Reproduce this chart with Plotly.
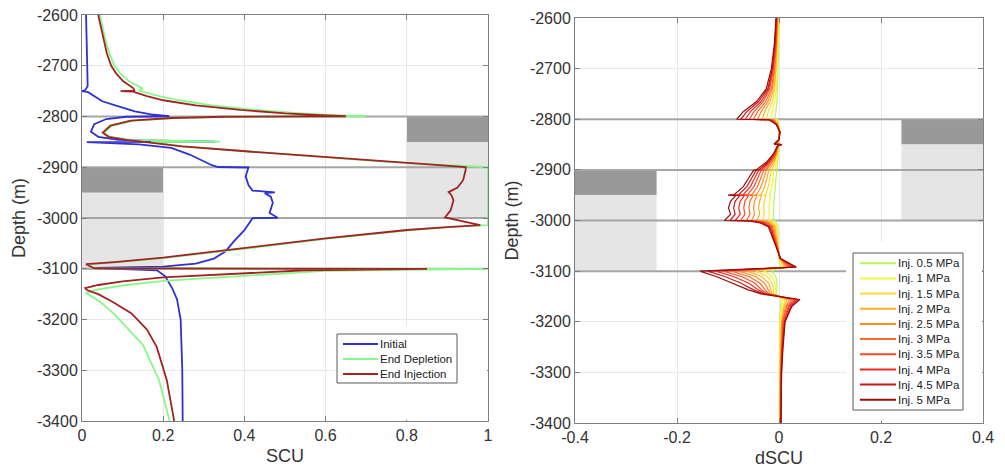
import plotly.graph_objects as go

# ---------------- Left panel data (SCU profiles) ----------------
init_depth = [-2600, -2700, -2740, -2748, -2750, -2752, -2760, -2770, -2780, -2790, -2796, -2799.5,
              -2800.5, -2805, -2815, -2830, -2840, -2846, -2849.5, -2850.5, -2855, -2862, -2875, -2888,
              -2896, -2899.5, -2900.5, -2918, -2935, -2946, -2949.5, -2951, -2958, -2970, -2990, -2999.5,
              -3000.5, -3024, -3045, -3066, -3080, -3090, -3096, -3098.5, -3100.5, -3103, -3115, -3138,
              -3160, -3200, -3300, -3400]
init_scu = [0.010, 0.012, 0.014, 0.008, 0.000, 0.015, 0.030, 0.050, 0.090, 0.130, 0.170, 0.215,
            0.110, 0.060, 0.030, 0.022, 0.040, 0.090, 0.328, 0.012, 0.140, 0.220, 0.265, 0.300,
            0.320, 0.335, 0.410, 0.403, 0.410, 0.420, 0.475, 0.450, 0.465, 0.470, 0.462, 0.482,
            0.420, 0.400, 0.375, 0.353, 0.325, 0.280, 0.200, 0.033, 0.130, 0.185, 0.205, 0.222,
            0.234, 0.243, 0.247, 0.248]

depl_depth = [-2600, -2650, -2675, -2700, -2715, -2730, -2745, -2749, -2751, -2760, -2768, -2778, -2787,
              -2794, -2798, -2799.5, -2800.5, -2803, -2808, -2818, -2832, -2840, -2846, -2849.5, -2850.5,
              -2859, -2869, -2879, -2889, -2896, -2899.5, -3014, -3018, -3023.6, -3040, -3059.7, -3078,
              -3087, -3092, -3099, -3099.6, -3100.4, -3104, -3113.6, -3124, -3133, -3142, -3148, -3155,
              -3165, -3190, -3220, -3250, -3320, -3400]
depl_scu = [0.044, 0.058, 0.067, 0.080, 0.094, 0.115, 0.150, 0.140, 0.150, 0.190, 0.240, 0.320, 0.427,
            0.540, 0.640, 0.700, 0.360, 0.230, 0.130, 0.075, 0.053, 0.070, 0.120, 0.340, 0.170,
            0.250, 0.415, 0.580, 0.745, 0.900, 1.000, 1.000, 0.900, 0.810, 0.610, 0.410, 0.210,
            0.090, 0.012, 0.030, 1.000, 1.000, 0.600, 0.400, 0.200, 0.100, 0.030, 0.010, 0.025,
            0.045, 0.080, 0.115, 0.150, 0.190, 0.216]

inj_depth = [-2600, -2650, -2675, -2700, -2715, -2730, -2744, -2749, -2750, -2751, -2760, -2768, -2778,
             -2787, -2794, -2798, -2799.5, -2800.5, -2803, -2808, -2818, -2832, -2840, -2846, -2851,
             -2859, -2869, -2879, -2889, -2896, -2899.5, -2905, -2925, -2940, -2949, -2955, -2965,
             -2985, -2999, -3005, -3011, -3014, -3018, -3023.6, -3040, -3059.7, -3078, -3087, -3091,
             -3099, -3099.6, -3100.4, -3103, -3109, -3117, -3125, -3132, -3138, -3142, -3150, -3165,
             -3188, -3220, -3254, -3320, -3400]
inj_scu = [0.040, 0.053, 0.061, 0.072, 0.084, 0.101, 0.126, 0.130, 0.095, 0.126, 0.160, 0.200, 0.280,
           0.390, 0.500, 0.600, 0.650, 0.350, 0.220, 0.120, 0.070, 0.051, 0.065, 0.110, 0.160,
           0.246, 0.410, 0.575, 0.740, 0.880, 0.945, 0.945, 0.939, 0.925, 0.903, 0.910, 0.915,
           0.908, 0.894, 0.930, 0.965, 0.981, 0.900, 0.800, 0.600, 0.400, 0.200, 0.080, 0.010,
           0.030, 0.850, 0.850, 0.550, 0.400, 0.200, 0.100, 0.040, 0.008, 0.012, 0.040, 0.075,
           0.122, 0.160, 0.184, 0.209, 0.227]

scu_names = ["Initial", "End Depletion", "End Injection"]
scu_colors = ["#3030d0", "#88f888", "#a02424"]

# ---------------- Right panel data (dSCU profiles) ----------------
dscu_depth = [-2600, -2650, -2700, -2740, -2765, -2785, -2800, -2801, -2810, -2825, -2840, -2849,
              -2850, -2851, -2870, -2885, -2900, -2901, -2917, -2933, -2949, -2950, -2951, -2962,
              -2975, -2988, -3000, -3001, -3005, -3012, -3020, -3040, -3060, -3075, -3092, -3100,
              -3111, -3124, -3137, -3145, -3156, -3170, -3200, -3250, -3300, -3400]

inj_05 = [0.001, 0.000, -0.002, -0.003, -0.004, -0.007, -0.008, -0.002, -0.001, 0.000, 0.000, -0.001,
          0.001, 0.000, -0.001, -0.003, -0.005, -0.005, -0.006, -0.007, -0.009, -0.010, -0.009, -0.010,
          -0.010, -0.010, -0.011, -0.006, -0.004, -0.002, -0.002, -0.001, 0.000, 0.000, 0.003, -0.014,
          -0.006, -0.004, -0.004, -0.005, 0.004, 0.003, 0.001, 0.001, 0.001, 0.001]
inj_10 = [0.000, -0.002, -0.003, -0.005, -0.009, -0.014, -0.017, -0.004, -0.001, 0.000, 0.000, -0.002,
          0.001, 0.000, -0.002, -0.005, -0.009, -0.010, -0.012, -0.014, -0.018, -0.020, -0.017, -0.019,
          -0.020, -0.019, -0.021, -0.012, -0.007, -0.004, -0.004, -0.002, 0.000, 0.001, 0.007, -0.030,
          -0.013, -0.008, -0.007, -0.008, 0.008, 0.005, 0.002, 0.002, 0.001, 0.001]
inj_15 = [-0.001, -0.003, -0.005, -0.008, -0.013, -0.021, -0.025, -0.006, -0.002, 0.001, 0.000, -0.003,
          0.002, -0.001, -0.004, -0.008, -0.014, -0.015, -0.018, -0.021, -0.026, -0.030, -0.026, -0.029,
          -0.030, -0.029, -0.032, -0.018, -0.011, -0.006, -0.005, -0.003, -0.001, 0.001, 0.010, -0.046,
          -0.022, -0.013, -0.011, -0.011, 0.012, 0.008, 0.004, 0.002, 0.002, 0.001]
inj_20 = [-0.002, -0.004, -0.006, -0.010, -0.018, -0.028, -0.033, -0.008, -0.002, 0.001, 0.000, -0.004,
          0.002, -0.001, -0.005, -0.010, -0.018, -0.020, -0.024, -0.028, -0.035, -0.040, -0.034, -0.038,
          -0.040, -0.038, -0.043, -0.024, -0.015, -0.008, -0.007, -0.004, -0.001, 0.001, 0.014, -0.062,
          -0.033, -0.020, -0.016, -0.014, 0.016, 0.010, 0.005, 0.003, 0.002, 0.002]
inj_25 = [-0.003, -0.005, -0.008, -0.013, -0.022, -0.035, -0.042, -0.010, -0.003, 0.001, 0.000, -0.005,
          0.003, -0.001, -0.006, -0.013, -0.023, -0.025, -0.030, -0.035, -0.044, -0.050, -0.043, -0.048,
          -0.050, -0.048, -0.054, -0.030, -0.019, -0.011, -0.009, -0.005, -0.001, 0.002, 0.017, -0.078,
          -0.045, -0.028, -0.021, -0.017, 0.021, 0.013, 0.006, 0.004, 0.003, 0.002]
inj_30 = [-0.003, -0.005, -0.009, -0.015, -0.026, -0.042, -0.050, -0.012, -0.004, 0.001, 0.000, -0.006,
          0.004, -0.001, -0.007, -0.015, -0.027, -0.030, -0.036, -0.042, -0.053, -0.060, -0.051, -0.057,
          -0.059, -0.057, -0.064, -0.036, -0.022, -0.013, -0.011, -0.006, -0.001, 0.002, 0.020, -0.093,
          -0.058, -0.037, -0.027, -0.020, 0.025, 0.015, 0.007, 0.005, 0.003, 0.003]
inj_35 = [-0.004, -0.006, -0.011, -0.018, -0.031, -0.049, -0.058, -0.014, -0.004, 0.001, 0.000, -0.007,
          0.004, -0.001, -0.008, -0.018, -0.032, -0.035, -0.042, -0.049, -0.062, -0.070, -0.060, -0.067,
          -0.069, -0.067, -0.075, -0.042, -0.026, -0.015, -0.013, -0.007, -0.001, 0.002, 0.024, -0.109,
          -0.072, -0.047, -0.034, -0.023, 0.029, 0.018, 0.008, 0.006, 0.004, 0.003]
inj_40 = [-0.005, -0.007, -0.012, -0.020, -0.035, -0.056, -0.066, -0.016, -0.005, 0.002, 0.000, -0.008,
          0.005, -0.002, -0.010, -0.020, -0.036, -0.040, -0.048, -0.056, -0.070, -0.080, -0.068, -0.076,
          -0.079, -0.076, -0.086, -0.048, -0.030, -0.017, -0.014, -0.008, -0.002, 0.002, 0.027, -0.124,
          -0.088, -0.059, -0.041, -0.026, 0.033, 0.020, 0.010, 0.006, 0.004, 0.003]
inj_45 = [-0.005, -0.008, -0.013, -0.022, -0.040, -0.063, -0.075, -0.018, -0.005, 0.002, 0.000, -0.009,
          0.005, -0.002, -0.011, -0.022, -0.040, -0.045, -0.054, -0.063, -0.079, -0.090, -0.077, -0.086,
          -0.089, -0.086, -0.096, -0.054, -0.033, -0.019, -0.016, -0.009, -0.002, 0.003, 0.031, -0.140,
          -0.105, -0.074, -0.050, -0.030, 0.037, 0.023, 0.011, 0.007, 0.005, 0.004]
inj_50 = [-0.006, -0.009, -0.015, -0.025, -0.044, -0.070, -0.083, -0.020, -0.006, 0.002, 0.000, -0.010,
          0.006, -0.002, -0.012, -0.025, -0.045, -0.050, -0.060, -0.070, -0.088, -0.100, -0.085, -0.095,
          -0.099, -0.095, -0.107, -0.060, -0.037, -0.021, -0.018, -0.010, -0.002, 0.003, 0.034, -0.155,
          -0.122, -0.090, -0.060, -0.035, 0.041, 0.025, 0.012, 0.008, 0.005, 0.004]

inj_names = ["Inj. 0.5 MPa", "Inj. 1 MPa", "Inj. 1.5 MPa", "Inj. 2 MPa", "Inj. 2.5 MPa",
             "Inj. 3 MPa", "Inj. 3.5 MPa", "Inj. 4 MPa", "Inj. 4.5 MPa", "Inj. 5 MPa"]
inj_series = [inj_05, inj_10, inj_15, inj_20, inj_25, inj_30, inj_35, inj_40, inj_45, inj_50]
inj_colors = ["#b8f55c", "#f2f53c", "#ffd932", "#ffae24", "#ff8c28", "#ff6a2a", "#ff4a28",
              "#ee2a20", "#c81818", "#980c0c"]

# layer boundaries (depth) and shaded zones
interfaces = [-2800, -2900, -3000, -3100]
left_zone_dark = (-2900, -2950)
left_zone_light = (-2950, -3100)
right_zone_dark = (-2800, -2850)
right_zone_light = (-2850, -3000)
scu_zone_left = (0.0, 0.2)
scu_zone_right = (0.8, 1.0)
dscu_zone_left = (-0.4, -0.24)
dscu_zone_right = (0.24, 0.4)

scu_range = [0, 1]
dscu_range = [-0.4, 0.4]
depth_range = [-3400, -2600]
depth_ticks = [-2600, -2700, -2800, -2900, -3000, -3100, -3200, -3300, -3400]
depth_labels = ["-2600", "-2700", "-2800", "-2900", "-3000", "-3100", "-3200", "-3300", "-3400"]
scu_ticks = [0, 0.2, 0.4, 0.6, 0.8, 1]
scu_labels = ["0", "0.2", "0.4", "0.6", "0.8", "1"]
dscu_ticks = [-0.4, -0.2, 0, 0.2, 0.4]
dscu_labels = ["-0.4", "-0.2", "0", "0.2", "0.4"]

FONT = "Liberation Sans, Arial, sans-serif"
DARK = "#999999"
LIGHT = "#e5e5e5"
IFACE = "#a6a6a6"
W, H = 1005, 473
ML, MR, MT, MB = 82, 22, 15, 50
PW, PH = W - ML - MR, H - MT - MB

fig = go.Figure()

# interface lines (drawn as traces so they sit above the grid and below the curves)
for d in interfaces:
    fig.add_trace(go.Scatter(x=scu_range, y=[d, d], mode="lines", showlegend=False, hoverinfo="skip",
                             line=dict(color=IFACE, width=2), xaxis="x", yaxis="y"))
    fig.add_trace(go.Scatter(x=dscu_range, y=[d, d], mode="lines", showlegend=False, hoverinfo="skip",
                             line=dict(color=IFACE, width=2), xaxis="x2", yaxis="y2"))

for name, xs, ys, col in zip(scu_names, [init_scu, depl_scu, inj_scu],
                             [init_depth, depl_depth, inj_depth], scu_colors):
    fig.add_trace(go.Scatter(x=xs, y=ys, mode="lines", name=name, showlegend=False,
                             line=dict(color=col, width=1.8), xaxis="x", yaxis="y"))

for name, vals, col in zip(inj_names, inj_series, inj_colors):
    fig.add_trace(go.Scatter(x=vals, y=dscu_depth, mode="lines", name=name, showlegend=False,
                             line=dict(color=col, width=1.2), xaxis="x2", yaxis="y2"))

shapes = []
annotations = []


def rect(xr, yr, x0, x1, y0, y1, col):
    shapes.append(dict(type="rect", xref=xr, yref=yr, x0=x0, x1=x1, y0=y0, y1=y1,
                       fillcolor=col, line=dict(width=0), layer="below"))


rect("x", "y", scu_zone_left[0], scu_zone_left[1], *left_zone_dark, DARK)
rect("x", "y", scu_zone_left[0], scu_zone_left[1], *left_zone_light, LIGHT)
rect("x", "y", scu_zone_right[0], scu_zone_right[1], *right_zone_dark, DARK)
rect("x", "y", scu_zone_right[0], scu_zone_right[1], *right_zone_light, LIGHT)
rect("x2", "y2", dscu_zone_left[0], dscu_zone_left[1], *left_zone_dark, DARK)
rect("x2", "y2", dscu_zone_left[0], dscu_zone_left[1], *left_zone_light, LIGHT)
rect("x2", "y2", dscu_zone_right[0], dscu_zone_right[1], *right_zone_dark, DARK)
rect("x2", "y2", dscu_zone_right[0], dscu_zone_right[1], *right_zone_light, LIGHT)


# paper coordinates (plot area) from page pixels
def px_x(v):
    return (v - ML) / PW


def px_y(v):
    return (H - MB - v) / PH


def legend_box(cover, box, x_line, x_text, y_items, names, colors):
    # white cover hiding grid lines around the legend, then the framed box
    shapes.append(dict(type="rect", xref="paper", yref="paper",
                       x0=px_x(cover[0]), x1=px_x(cover[1]), y0=px_y(cover[3]), y1=px_y(cover[2]),
                       fillcolor="white", line=dict(width=0), layer="above"))
    shapes.append(dict(type="rect", xref="paper", yref="paper",
                       x0=px_x(box[0]), x1=px_x(box[1]), y0=px_y(box[3]), y1=px_y(box[2]),
                       fillcolor="white", line=dict(color="#5a5a5a", width=1), layer="above"))
    for yy, nm, col in zip(y_items, names, colors):
        shapes.append(dict(type="line", xref="paper", yref="paper",
                           x0=px_x(x_line[0]), x1=px_x(x_line[1]), y0=px_y(yy), y1=px_y(yy),
                           line=dict(color=col, width=2), layer="above"))
        annotations.append(dict(x=px_x(x_text), y=px_y(yy), xref="paper", yref="paper",
                                text=nm, showarrow=False, xanchor="left", yanchor="middle",
                                font=dict(family=FONT, size=11.5, color="#222222")))


legend_box((335, 487, 326, 420), (337, 457, 334, 383), (343, 378), 378,
           [344, 359, 374], scu_names, scu_colors)
legend_box((846, 982, 242, 421), (853, 963, 253, 410), (860, 896), 896,
           [263.3, 278.5, 293.6, 308.8, 324, 339.1, 354.3, 369.5, 384.6, 399.8], inj_names, inj_colors)

axis_common = dict(showline=True, linecolor="#7f7f7f", linewidth=1, mirror="ticks",
                   ticks="inside", ticklen=5, tickcolor="#7f7f7f", showgrid=True,
                   gridcolor="#e8e8e8", gridwidth=1, zeroline=False, automargin=False,
                   tickfont=dict(family=FONT, size=16, color="#333333"))

fig.update_layout(
    width=W, height=H, margin=dict(l=ML, r=MR, t=MT, b=MB),
    paper_bgcolor="white", plot_bgcolor="white",
    font=dict(family=FONT, color="#333333"),
    shapes=shapes, annotations=annotations, showlegend=False,
    xaxis=dict(domain=[0, (488 - ML) / PW], range=scu_range, anchor="y", tickvals=scu_ticks,
               ticktext=scu_labels, title=dict(text="SCU", font=dict(size=18), standoff=6), **axis_common),
    yaxis=dict(domain=[px_y(421), px_y(15)], range=depth_range, anchor="x",
               tickvals=depth_ticks, ticktext=depth_labels,
               title=dict(text="Depth (m)", font=dict(size=18), standoff=6), **axis_common),
    xaxis2=dict(domain=[(575 - ML) / PW, 1], range=dscu_range, anchor="y2", tickvals=dscu_ticks,
                ticktext=dscu_labels, title=dict(text="dSCU", font=dict(size=18), standoff=6), **axis_common),
    yaxis2=dict(domain=[px_y(423), px_y(18)], range=depth_range, anchor="x2",
                tickvals=depth_ticks, ticktext=depth_labels,
                title=dict(text="Depth (m)", font=dict(size=18), standoff=6), **axis_common),
)

fig.write_html("out.html")
